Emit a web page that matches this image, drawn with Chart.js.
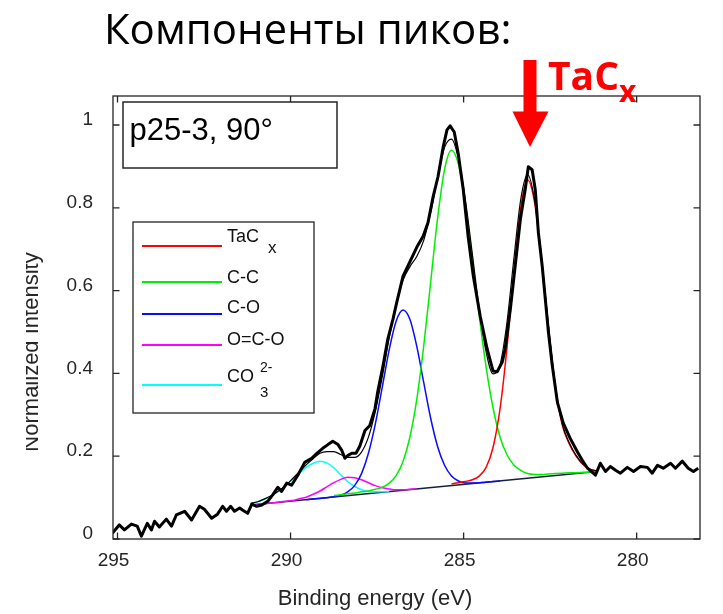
<!DOCTYPE html>
<html>
<head>
<meta charset="utf-8">
<script src="https://cdn.jsdelivr.net/npm/chart.js@4.4.0/dist/chart.umd.min.js"></script>
<style>
  html, body { margin:0; padding:0; background:#fff; }
</style>
</head>
<body>
<canvas id="xps" width="723" height="614"></canvas>
<script>
// ================== DATA ==================
const header = "Компоненты пиков:";
const sampleLabel = "p25-3, 90°";
const xTitle = "Binding energy (eV)";
const yTitle = "Normalized Intensity";
const xTicks = [295, 290, 285, 280];
const yTicks = [0, 0.2, 0.4, 0.6, 0.8, 1];

// component names (sub / superscripts kept apart)
const seriesNames = ["TaC", "C-C", "C-O", "O=C-O", "CO"];
const seriesSub   = ["x", "", "", "", "3"];
const seriesSup   = ["", "", "", "", "2-"];

// measured spectrum (thick black)
const measE = [295.15,294.95,294.80,294.60,294.43,294.31,294.14,294.02,293.93,293.79,
  293.59,293.44,293.30,293.06,292.86,292.63,292.49,292.28,292.11,291.96,
  291.85,291.73,291.62,291.47,291.39,291.24,291.12,290.98,290.83,290.66,
  290.52,290.37,290.26,290.11,289.97,289.79,289.59,289.39,289.24,289.07,
  288.92,288.78,288.63,288.52,288.43,288.34,288.23,288.11,288.00,287.85,
  287.71,287.56,287.48,287.33,287.19,287.04,286.93,286.75,286.55,286.35,
  286.17,286.03,285.88,285.74,285.59,285.48,285.39,285.27,285.16,285.01,
  284.87,284.72,284.52,284.32,284.15,284.03,283.88,283.80,283.65,283.51,
  283.36,283.22,283.13,283.02,282.93,282.84,282.73,282.64,282.55,282.44,
  282.29,282.12,281.92,281.71,281.57,281.42,281.19,281.05,280.90,280.76,
  280.61,280.47,280.27,280.09,279.89,279.69,279.55,279.40,279.23,279.02,
  278.88,278.68,278.51,278.36,278.22];
const measI = [0.014,0.034,0.022,0.036,0.031,0.007,0.038,0.022,0.043,0.029,
  0.048,0.031,0.058,0.067,0.046,0.079,0.072,0.050,0.060,0.079,
  0.067,0.079,0.067,0.075,0.070,0.062,0.084,0.079,0.082,0.091,
  0.106,0.125,0.115,0.135,0.130,0.154,0.185,0.195,0.207,0.219,
  0.228,0.236,0.228,0.214,0.195,0.202,0.207,0.207,0.224,0.262,
  0.274,0.315,0.356,0.418,0.483,0.531,0.572,0.635,0.670,0.705,
  0.731,0.764,0.827,0.875,0.947,0.988,0.998,0.983,0.933,0.844,
  0.731,0.635,0.538,0.459,0.406,0.404,0.428,0.459,0.555,0.659,
  0.772,0.844,0.899,0.892,0.844,0.740,0.660,0.580,0.500,0.420,
  0.330,0.280,0.243,0.210,0.190,0.171,0.154,0.183,0.163,0.175,
  0.166,0.159,0.173,0.163,0.175,0.173,0.159,0.178,0.171,0.183,
  0.171,0.188,0.171,0.163,0.171];

// fit grid (binding energy, eV)
const fitE = [291.15,290.95,290.75,290.55,290.35,290.15,289.95,289.75,289.55,289.35,
  289.15,288.95,288.75,288.55,288.35,288.15,287.95,287.75,287.55,287.35,
  287.15,286.95,286.75,286.55,286.35,286.15,285.95,285.75,285.55,285.35,
  285.15,284.95,284.75,284.55,284.35,284.15,283.95,283.75,283.55,283.35,
  283.15,282.95,282.75,282.55,282.35,282.15,281.95,281.75,281.55,281.35,
  281.15];
const envelope = [0.086,0.090,0.097,0.105,0.116,0.129,0.145,0.162,0.179,0.194,
  0.207,0.211,0.211,0.204,0.197,0.197,0.210,0.246,0.308,0.392,
  0.486,0.567,0.625,0.658,0.683,0.722,0.789,0.873,0.946,0.966,
  0.919,0.820,0.690,0.557,0.452,0.399,0.420,0.521,0.675,0.820,
  0.880,0.819,0.681,0.516,0.372,0.278,0.233,0.202,0.181,0.169,
  0.165];
// linear background end points
const bgE = [291.15, 281.15];
const bgI = [0.082, 0.163];

// components; each starts at the given index of fitE
const tacStart = 29;
const tac = [0.133,0.136,0.139,0.143,0.152,0.173,0.221,0.313,0.459,0.640,0.800,
  0.867,0.813,0.676,0.512,0.368,0.275,0.230,0.200,0.180,0.168,0.164];
const ccStart = 12;
const cc = [0.105,0.107,0.109,0.111,0.114,0.116,0.120,0.125,0.135,0.153,0.187,
  0.247,0.339,0.468,0.622,0.776,0.893,0.939,0.905,0.810,0.679,0.540,0.415,
  0.317,0.247,0.204,0.179,0.166,0.158,0.156,0.156,0.157,0.158,0.159,0.160,
  0.160,0.161,0.162,0.164];
const coStart = 8;
const co = [0.095,0.0965,0.098,0.0998,0.102,0.106,0.114,0.129,0.158,0.207,0.278,
  0.367,0.457,0.526,0.553,0.530,0.464,0.377,0.291,0.223,0.178,0.152,0.140,
  0.135,0.135,0.136,0.137,0.139,0.140];
const ococStart = 0;
const ococ = [0.082,0.0836,0.0854,0.0871,0.089,0.091,0.093,0.097,0.101,0.108,0.116,
  0.126,0.136,0.144,0.149,0.148,0.143,0.136,0.129,0.124,0.121,0.119,0.119,
  0.120,0.121];
const co3Start = 0;
const co3 = [0.086,0.090,0.096,0.104,0.115,0.128,0.143,0.159,0.173,0.183,0.188,
  0.184,0.172,0.155,0.139,0.127,0.119,0.115,0.114,0.114,0.115];

// ================== HELPERS ==================
const pts = (xs, ys) => ys.map((v, i) => ({x: xs[i], y: v}));
const comp = (start, ys) => pts(fitE.slice(start, start + ys.length), ys);

const AX = '#262626';
const SANS = '"Liberation Sans", Arial, sans-serif';
const compColors = ['#ff0000', '#00ee00', '#0a0aff', '#ff00ff', '#00ffff'];

// ================== DECOR PLUGIN ==================
const decor = {
  id: 'decor',
  afterDraw(chart){
    const {ctx, chartArea: a, scales: {x, y}} = chart;
    ctx.save();

    // frame with inward ticks on all four sides
    ctx.strokeStyle = AX; ctx.lineWidth = 1.3;
    ctx.strokeRect(a.left, a.top, a.right - a.left, a.bottom - a.top);
    ctx.beginPath();
    xTicks.forEach(v=>{
      const px = x.getPixelForValue(v);
      ctx.moveTo(px, a.bottom); ctx.lineTo(px, a.bottom - 6.5);
      ctx.moveTo(px, a.top); ctx.lineTo(px, a.top + 6.5);
    });
    yTicks.forEach(v=>{
      const py = y.getPixelForValue(v);
      ctx.moveTo(a.left, py); ctx.lineTo(a.left + 6.5, py);
      ctx.moveTo(a.right, py); ctx.lineTo(a.right - 6.5, py);
    });
    ctx.stroke();

    // sample label box
    ctx.fillStyle = '#fff';
    ctx.fillRect(123, 102, 214, 66);
    ctx.lineWidth = 1.5; ctx.strokeStyle = AX;
    ctx.strokeRect(123, 102, 214, 66);
    ctx.fillStyle = '#000';
    ctx.font = '31px ' + SANS;
    ctx.textBaseline = 'alphabetic';
    ctx.fillText(sampleLabel, 129.5, 140);

    // legend
    ctx.fillStyle = '#fff';
    ctx.fillRect(133, 222, 181, 191);
    ctx.lineWidth = 1.3; ctx.strokeStyle = AX;
    ctx.strokeRect(133, 222, 181, 191);
    const rowY = [246, 282, 314, 345, 385];
    const textY = [241.5, 283, 313, 345, 382];
    seriesNames.forEach((name, i)=>{
      ctx.strokeStyle = compColors[i]; ctx.lineWidth = 2;
      ctx.beginPath(); ctx.moveTo(142, rowY[i]); ctx.lineTo(222, rowY[i]); ctx.stroke();
      ctx.fillStyle = '#111';
      ctx.font = '18px ' + SANS;
      ctx.fillText(name, 227, textY[i]);
      const w = ctx.measureText(name).width;
      if(seriesSub[i] && !seriesSup[i]){
        ctx.font = '17px ' + SANS;
        ctx.fillText(seriesSub[i], 227 + w + 9, textY[i] + 11);
      }
      if(seriesSup[i]){
        ctx.font = '14px ' + SANS;
        ctx.fillText(seriesSup[i], 227 + w + 6, textY[i] - 10);
        ctx.font = '15px ' + SANS;
        ctx.fillText(seriesSub[i], 227 + w + 6, textY[i] + 15);
      }
    });

    // axis titles
    ctx.fillStyle = AX;
    ctx.font = '22px ' + SANS;
    ctx.textAlign = 'center';
    ctx.fillText(xTitle, 375, 605);
    ctx.save();
    ctx.beginPath(); ctx.rect(26, 0, 80, 614); ctx.clip();
    ctx.translate(38, 352); ctx.rotate(-Math.PI / 2);
    ctx.fillText(yTitle, 0, 0);
    ctx.restore();

    // slide header
    ctx.textAlign = 'left';
    ctx.fillStyle = '#000';
    ctx.font = '42px "Open Sans", sans-serif';
    ctx.fillText(header, 104, 44);

    // red arrow + TaCx
    ctx.fillStyle = '#ff0000';
    ctx.fillRect(523.5, 60, 13, 52);
    ctx.beginPath();
    ctx.moveTo(512.5, 111.5); ctx.lineTo(548.5, 111.5); ctx.lineTo(530, 147);
    ctx.closePath(); ctx.fill();
    ctx.font = 'bold 39px "Open Sans", sans-serif';
    ctx.fillText(seriesNames[0], 548, 90);
    const tw = ctx.measureText(seriesNames[0]).width;
    ctx.font = 'bold 30px "Open Sans", sans-serif';
    ctx.fillText(seriesSub[0], 548 + tw, 102);

    ctx.restore();
  }
};

// ================== CHART ==================
const line = (data, color, width, order, smooth) => ({
  data, borderColor: color, borderWidth: width, pointRadius: 0, order,
  fill: false, tension: 0, cubicInterpolationMode: smooth ? 'monotone' : 'default',
  borderJoinStyle: 'round'
});

new Chart(document.getElementById('xps'), {
  type: 'line',
  data: {
    datasets: [
      line(pts(measE, measI), '#000', 3, 0, false),
      line(pts(fitE, envelope), '#000', 1.2, 1, true),
      line(comp(tacStart, tac), compColors[0], 1.5, 2, true),
      line(comp(ccStart, cc), compColors[1], 1.5, 3, true),
      line(comp(coStart, co), compColors[2], 1.5, 4, true),
      line(comp(ococStart, ococ), compColors[3], 1.5, 5, true),
      line(comp(co3Start, co3), compColors[4], 1.5, 6, true),
      line(pts(bgE, bgI), '#14213d', 1.5, 7, false)
    ]
  },
  options: {
    responsive: false,
    animation: false,
    devicePixelRatio: 1,
    parsing: false,
    layout: { padding: { top: 96, right: 23, left: 0, bottom: 0 } },
    plugins: { legend: { display: false }, tooltip: { enabled: false } },
    scales: {
      x: {
        type: 'linear', reverse: true, min: 278.17, max: 295.13,
        afterBuildTicks: s => { s.ticks = xTicks.map(v => ({value: v})); },
        afterFit: s => { s.height = 75; },
        grid: { display: false, drawTicks: false },
        border: { display: false },
        ticks: { font: { family: SANS, size: 19 }, color: AX, padding: 10,
                 labelOffset: -4, maxRotation: 0, autoSkip: false,
                 callback: v => String(v) }
      },
      y: {
        type: 'linear', min: 0, max: 1.07,
        afterBuildTicks: s => { s.ticks = yTicks.map(v => ({value: v})); },
        afterFit: s => { s.width = 113; },
        grid: { display: false, drawTicks: false },
        border: { display: false },
        ticks: { font: { family: SANS, size: 19 }, color: AX, padding: 20,
                 labelOffset: -5, autoSkip: false,
                 callback: v => String(v) }
      }
    }
  },
  plugins: [decor]
});
</script>
</body>
</html>
